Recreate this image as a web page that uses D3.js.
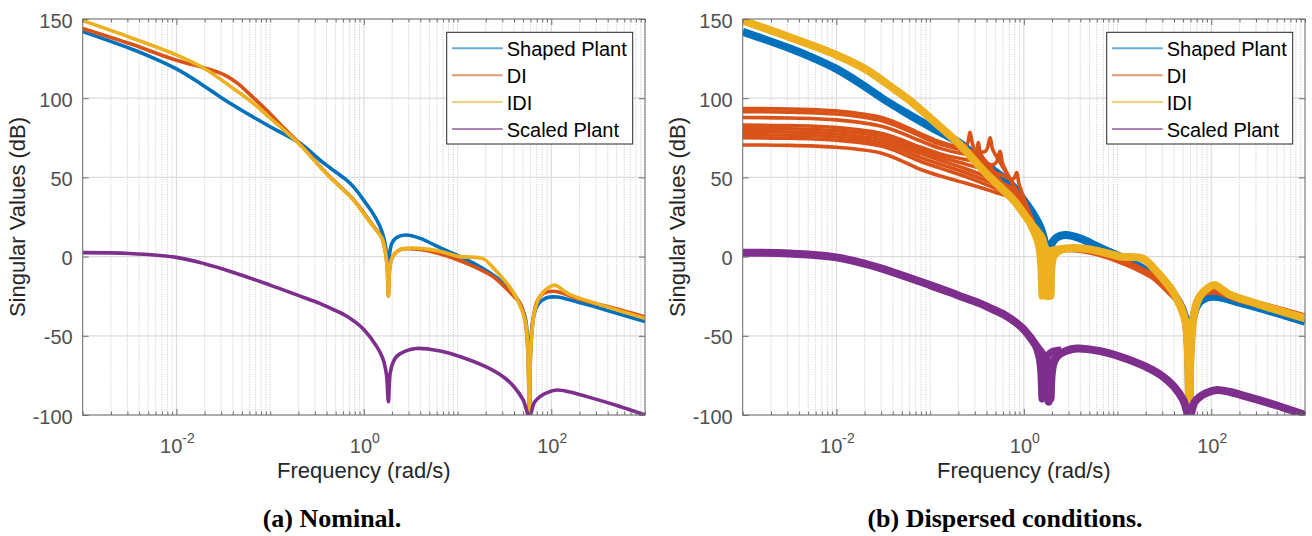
<!DOCTYPE html>
<html>
<head>
<meta charset="utf-8">
<script src="https://cdn.jsdelivr.net/npm/d3@7"></script>
<style>
  body { margin: 0; background: #fff; }
  svg { display: block; }
</style>
</head>
<body>
<div id="vis-container"></div>
<script>
// Singular value plots. Each point is [log10(frequency in rad/s), magnitude in dB]

// (a) nominal curves
const shapedNom = [[-3,142],[-2.5,131.5],[-2.25,125.5],[-2,118.5],[-1.75,109.5],[-1.5,99.5],[-1.25,90.5],[-1,82],[-0.68,71.5],[-0.47,61],[-0.36,56],[-0.2,49],[-0.11,44],[0,35.5],[0.1,27],[0.18,18],[0.22,10],[0.245,1],[0.262,-6],[0.275,2],[0.3,8.5],[0.35,12],[0.45,13.6],[0.6,11.5],[0.8,6],[0.95,2],[1.1,-2],[1.24,-6.4],[1.4,-12.5],[1.55,-20],[1.65,-28],[1.72,-38],[1.75,-55],[1.766,-100],[1.78,-55],[1.81,-38],[1.86,-30],[1.95,-26],[2.06,-25.5],[2.3,-29],[2.6,-34],[3,-41]];
const diNom = [[-3,144],[-2.5,134.5],[-2,124],[-1.68,118.8],[-1.55,116.3],[-1.45,113.5],[-1.35,109.5],[-1.2,101.5],[-1.04,92.5],[-0.85,81],[-0.68,71],[-0.47,57],[-0.36,50.2],[-0.11,36],[0,27.5],[0.1,19.5],[0.19,12],[0.23,3],[0.25,-8],[0.262,-25],[0.275,-8],[0.3,-1],[0.333,2],[0.39,4.5],[0.45,5],[0.6,4.5],[0.8,2],[1.0,-2],[1.2,-7],[1.38,-12.7],[1.5,-19],[1.6,-25],[1.667,-29.5],[1.72,-40],[1.75,-60],[1.766,-100],[1.78,-60],[1.81,-38],[1.85,-28],[1.916,-23.2],[2.05,-22],[2.3,-27],[2.6,-31.5],[3,-38]];
const idiNom = [[-3,149],[-2.5,138.5],[-2,127.3],[-1.68,118],[-1.39,106],[-1.18,96.8],[-1,87.5],[-0.68,70.5],[-0.47,56.8],[-0.36,50],[-0.11,35.7],[0,27],[0.1,19],[0.19,12],[0.23,3],[0.25,-8],[0.262,-25],[0.275,-8],[0.3,-1],[0.333,2],[0.39,4.5],[0.45,5.2],[0.6,5.2],[0.8,3.5],[1.03,0],[1.2,-0.5],[1.28,-1.5],[1.38,-7],[1.5,-15],[1.6,-23],[1.72,-40],[1.75,-60],[1.766,-100],[1.78,-60],[1.82,-35],[1.88,-25],[1.96,-20],[2.04,-18],[2.12,-21],[2.2,-24],[2.5,-30],[3,-39]];
const scaledNom = [[-3,2.5],[-2.5,2],[-2,-0.5],[-1.7,-4.5],[-1.39,-10],[-1,-18],[-0.7,-24.5],[-0.47,-29.5],[-0.36,-32.5],[-0.2,-37],[-0.11,-40.5],[0,-46],[0.14,-57],[0.2,-64],[0.24,-74],[0.262,-91.6],[0.28,-74],[0.31,-67],[0.35,-63],[0.45,-59.5],[0.56,-58],[0.8,-59.5],[1.03,-63.2],[1.3,-69.5],[1.49,-76],[1.6,-82],[1.7,-90.5],[1.766,-101],[1.82,-92],[1.88,-88.4],[1.95,-86],[2.06,-84.2],[2.2,-85.5],[2.38,-88.4],[2.7,-94],[3,-100]];

// (b) dispersed conditions: DI low-frequency curves, one per condition
const diDisp1 = [[-3,93.5],[-2.5,93.2],[-2,92],[-1.5,87.5],[-1.1,77.5],[-0.9,72.5],[-0.7,69.5],[-0.61,70.5],[-0.575,78.5],[-0.548,71],[-0.5,64],[-0.35,54],[-0.2,44],[-0.05,33],[0.1,20]];
const diDisp2 = [[-3,91.5],[-2.5,91.2],[-2,90],[-1.5,85.5],[-1.1,76],[-0.9,71],[-0.6,67],[-0.41,66.5],[-0.36,75],[-0.335,68],[-0.25,59],[-0.1,44],[0.1,20]];
const diDisp3 = [[-3,87.8],[-2.5,87.5],[-2,86.3],[-1.5,82],[-1.1,73],[-0.9,68.5],[-0.65,65],[-0.52,64.5],[-0.486,72],[-0.462,65],[-0.35,56],[-0.15,40],[0.1,20]];
const diDisp4 = [[-3,83],[-2.5,82.7],[-2,81.5],[-1.5,77.5],[-1.1,69],[-0.9,65],[-0.6,61],[-0.31,58.5],[-0.254,66.5],[-0.228,59],[-0.12,46],[0.1,20]];
const diDisp5 = [[-3,81],[-2.5,80.7],[-2,79.5],[-1.5,75.5],[-1.1,67],[-0.9,63],[-0.6,58],[-0.3,53],[-0.115,49],[-0.076,53],[-0.052,46],[0.1,22]];
const diDisp6 = [[-3,79],[-2.5,78.7],[-2,77.5],[-1.5,73.5],[-1.1,65],[-0.9,61],[-0.6,55],[-0.3,48],[-0.1,42],[0.1,22]];
const diDisp7 = [[-3,77],[-2.5,76.7],[-2,75.5],[-1.5,71.5],[-1.1,62.5],[-0.9,58.5],[-0.6,52.5],[-0.3,45.5],[-0.1,40],[0.1,22]];
const diDisp8 = [[-3,75],[-2.5,74.7],[-2,73.5],[-1.5,69.5],[-1.1,60],[-0.9,56],[-0.6,50],[-0.3,43],[-0.1,38],[0.1,22]];
const diDisp9 = [[-3,70.5],[-2.5,70.2],[-2,69],[-1.5,65],[-1.1,55],[-0.9,51],[-0.6,46],[-0.3,40.5],[-0.1,36],[0.1,22]];

// (b) spread of the first anti-resonance notch
const idiNotchA = [[0.05,23],[0.12,14],[0.16,6],[0.18,-5],[0.194,-25],[0.21,-5],[0.24,1],[0.3,4],[0.4,5]];
const idiNotchB = [[0.05,23],[0.12,14],[0.2,6],[0.22,-5],[0.232,-25],[0.245,-5],[0.28,1],[0.35,4],[0.45,5]];
const idiNotchC = [[0.1,19],[0.2,8],[0.26,3],[0.278,-5],[0.29,-25],[0.303,-5],[0.33,1],[0.4,4],[0.5,5]];
const scaledNotchA = [[0.05,-50],[0.12,-56],[0.16,-63],[0.18,-72],[0.194,-90],[0.21,-72],[0.25,-63],[0.3,-60],[0.4,-59]];
const scaledNotchB = [[0.1,-54],[0.2,-61],[0.26,-67],[0.28,-75],[0.29,-90],[0.303,-74],[0.33,-66],[0.4,-61],[0.5,-59]];

// axes ticks and legend
const xMajorTicks = [1e-2, 1, 1e2];
const xTickExp = ["-2", "0", "2"];
const yTicks = [-100, -50, 0, 50, 100, 150];
const legendNames = ["Shaped Plant", "DI", "IDI", "Scaled Plant"];
const colors = ["#0072BD", "#D95319", "#EDB120", "#7E2F8E"];

const width = 1312;
const height = 536;
const margin = { top: 19, bottom: 121 };

const svg = d3.select("#vis-container")
  .append("svg")
  .attr("width", width)
  .attr("height", height)
  .style("font-family", "'Liberation Sans', Arial, Helvetica, sans-serif");

function drawPanel(left, right, id, caption, captionX, drawCurves) {
  const x = d3.scaleLog().domain([1e-3, 1e3]).range([left, right]);
  const y = d3.scaleLinear().domain([-100, 150]).range([height - margin.bottom, margin.top]);
  const top = margin.top, bottom = height - margin.bottom;
  const g = svg.append("g");

  // minor grid (dotted) at every k*10^n
  const minor = x.ticks().filter((v) => !xMajorTicks.some((m) => Math.abs(m - v) / m < 1e-6));
  g.selectAll(".minor").data(minor).enter().append("line")
    .attr("x1", (d) => x(d)).attr("x2", (d) => x(d))
    .attr("y1", top).attr("y2", bottom)
    .attr("stroke", "#c8c8c8").attr("stroke-width", 0.9)
    .attr("stroke-dasharray", "1.2,1.3");

  // major grid
  g.selectAll(".vgrid").data(xMajorTicks).enter().append("line")
    .attr("x1", (d) => x(d)).attr("x2", (d) => x(d))
    .attr("y1", top).attr("y2", bottom)
    .attr("stroke", "#dcdcdc").attr("stroke-width", 1.2);
  g.selectAll(".hgrid").data(yTicks).enter().append("line")
    .attr("x1", left).attr("x2", right)
    .attr("y1", (d) => y(d)).attr("y2", (d) => y(d))
    .attr("stroke", "#dcdcdc").attr("stroke-width", 1.2);

  // curves
  const clipId = "clip" + id;
  svg.append("clipPath").attr("id", clipId)
    .append("rect").attr("x", left).attr("y", top)
    .attr("width", right - left).attr("height", bottom - top);
  const curves = g.append("g").attr("clip-path", `url(#${clipId})`);
  const line = d3.line()
    .x((d) => x(Math.pow(10, d[0])))
    .y((d) => y(d[1]))
    .curve(d3.curveCatmullRom.alpha(0.5));
  const addLine = (data, color, w) => curves.append("path")
    .attr("d", line(data))
    .attr("fill", "none")
    .attr("stroke", color)
    .attr("stroke-width", w)
    .attr("stroke-linejoin", "round");
  drawCurves(addLine);

  // axes with inward ticks on all four sides
  const axisColor = "#6e6e6e";
  const axes = [
    [d3.axisBottom(x), `translate(0,${bottom})`],
    [d3.axisTop(x), `translate(0,${top})`]
  ];
  axes.forEach(([ax, tr]) => {
    g.append("g").attr("transform", tr)
      .call(ax.tickValues(minor).tickSize(-3.5).tickSizeOuter(0).tickFormat(""))
      .call((s) => s.select(".domain").remove());
    g.append("g").attr("transform", tr)
      .call(ax.tickValues(xMajorTicks).tickSize(-6).tickSizeOuter(0).tickFormat(""))
      .call((s) => s.select(".domain").remove());
  });
  g.append("g").attr("transform", `translate(${left},0)`)
    .call(d3.axisLeft(y).tickValues(yTicks).tickSize(-6).tickSizeOuter(0).tickFormat(""))
    .call((s) => s.select(".domain").remove());
  g.append("g").attr("transform", `translate(${right},0)`)
    .call(d3.axisRight(y).tickValues(yTicks).tickSize(-6).tickSizeOuter(0).tickFormat(""))
    .call((s) => s.select(".domain").remove());
  g.selectAll(".tick line").attr("stroke", axisColor);
  g.append("rect")
    .attr("x", left).attr("y", top)
    .attr("width", right - left).attr("height", bottom - top)
    .attr("fill", "none").attr("stroke", axisColor).attr("stroke-width", 1);

  // tick labels
  g.selectAll(".ylab").data(yTicks).enter().append("text")
    .attr("x", left - 10).attr("y", (d) => y(d) + 8.6)
    .attr("text-anchor", "end")
    .attr("font-size", 20).attr("fill", "#505050")
    .text((d) => d);
  const xl = g.selectAll(".xlab").data(xMajorTicks).enter().append("text")
    .attr("x", (d) => x(d) + 1).attr("y", bottom + 38)
    .attr("text-anchor", "middle")
    .attr("font-size", 20).attr("fill", "#505050");
  xl.append("tspan").text("10");
  xl.append("tspan").attr("font-size", 14).attr("dy", -10).text((d, i) => xTickExp[i]);

  // axis labels
  g.append("text")
    .attr("x", (left + right) / 2).attr("y", bottom + 63)
    .attr("text-anchor", "middle")
    .attr("font-size", 22).attr("fill", "#262626")
    .text("Frequency (rad/s)");
  g.append("text")
    .attr("transform", `translate(${left - 57.5},${(top + bottom) / 2}) rotate(-90)`)
    .attr("text-anchor", "middle")
    .attr("font-size", 22).attr("fill", "#262626")
    .text("Singular Values (dB)");

  // legend
  const lx = right - 198.3, ly = top + 13.3;
  const leg = g.append("g");
  leg.append("rect")
    .attr("x", lx).attr("y", ly).attr("width", 186).attr("height", 111.7)
    .attr("fill", "#fff").attr("stroke", "#262626").attr("stroke-width", 1);
  legendNames.forEach((name, i) => {
    const cy = ly + 17 + i * 26.9;
    leg.append("line")
      .attr("x1", lx + 5.3).attr("x2", lx + 56)
      .attr("y1", cy - 1).attr("y2", cy - 1)
      .attr("stroke", colors[i]).attr("stroke-width", 2).attr("opacity", 0.6);
    leg.append("text")
      .attr("x", lx + 60).attr("y", cy + 7)
      .attr("font-size", 20).attr("fill", "#000")
      .text(name);
  });

  // caption
  svg.append("text")
    .attr("x", captionX).attr("y", 527)
    .attr("text-anchor", "middle")
    .attr("font-family", "'Liberation Serif', 'Times New Roman', serif")
    .attr("font-weight", "bold")
    .attr("font-size", 26).attr("fill", "#000")
    .text(caption);
}

// (a) Nominal
drawPanel(82.7, 645, "a", "(a) Nominal.", 332, (addLine) => {
  addLine(shapedNom, colors[0], 3.6);
  addLine(diNom, colors[1], 3.6);
  addLine(idiNom, colors[2], 3.6);
  addLine(scaledNom, colors[3], 3.6);
});

// (b) Dispersed conditions
drawPanel(742.7, 1305, "b", "(b) Dispersed conditions.", 1005, (addLine) => {
  addLine(shapedNom, colors[0], 8);
  addLine(diNom.filter((d) => d[0] >= 0.1), colors[1], 7);
  [diDisp1, diDisp2, diDisp3, diDisp4, diDisp5, diDisp6, diDisp7, diDisp8, diDisp9]
    .forEach((d) => addLine(d, colors[1], 3.6));
  addLine(idiNom, colors[2], 8);
  [idiNotchA, idiNotchB, idiNotchC].forEach((d) => addLine(d, colors[2], 7));
  addLine(scaledNom, colors[3], 8);
  [scaledNotchA, scaledNotchB].forEach((d) => addLine(d, colors[3], 7));
});
</script>
</body>
</html>
